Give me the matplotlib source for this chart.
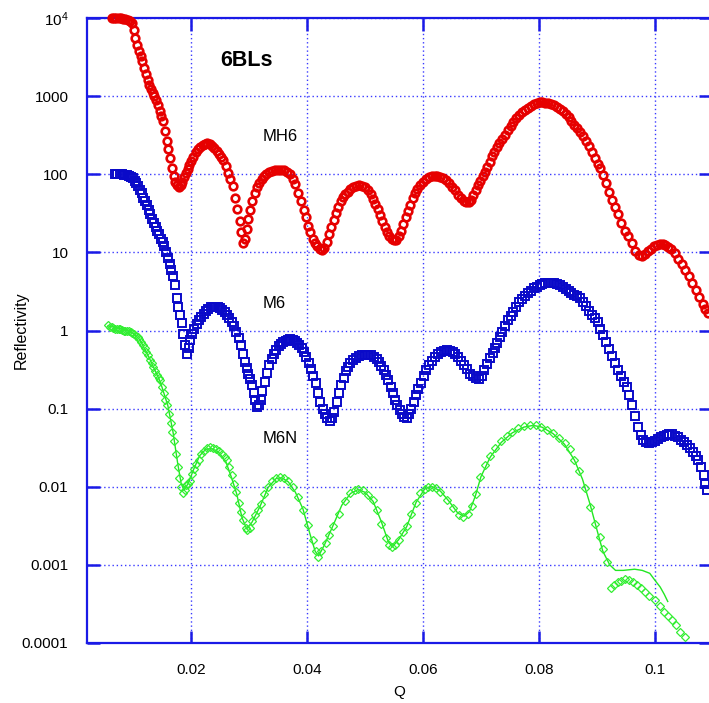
import matplotlib
matplotlib.use("Agg")
import matplotlib.pyplot as plt
import numpy as np

plt.rcParams['font.family'] = ['Liberation Sans', 'DejaVu Sans']
plt.rcParams['mathtext.fontset'] = 'custom'
plt.rcParams['mathtext.rm'] = 'Liberation Sans'

# MH6 data (Q, R) - red circles
mh6_pts = [
    (0.0063, 10000), (0.0067, 10000), (0.0071, 10000), (0.0075, 9900), (0.0079, 9900),
    (0.0083, 9800), (0.0087, 9700), (0.0091, 9500), (0.0095, 9200), (0.0098, 8700),
    (0.0101, 7000), (0.0104, 5500), (0.0107, 4500), (0.0110, 3800), (0.0113, 3300),
    (0.0116, 2800), (0.0119, 2300), (0.0122, 1900), (0.0125, 1600), (0.0128, 1400),
    (0.0131, 1250), (0.0134, 1100), (0.0137, 1000), (0.0140, 900), (0.0143, 780),
    (0.0146, 650), (0.0149, 560), (0.0152, 480), (0.0155, 360), (0.0158, 270),
    (0.0161, 210), (0.0164, 160), (0.0167, 120), (0.0170, 95), (0.0173, 80),
    (0.0176, 72), (0.0179, 69), (0.0182, 72), (0.0185, 80), (0.0188, 92),
    (0.0191, 105), (0.0194, 118), (0.0197, 132), (0.0200, 148), (0.0204, 168),
    (0.0208, 190), (0.0212, 208), (0.0216, 225), (0.0220, 238), (0.0224, 247),
    (0.0228, 251), (0.0232, 245), (0.0236, 232), (0.0240, 215), (0.0244, 198),
    (0.0248, 182), (0.0252, 168), (0.0256, 150), (0.0260, 128), (0.0264, 105),
    (0.0268, 88), (0.0272, 70), (0.0276, 50), (0.0280, 36), (0.0284, 25),
    (0.0287, 18), (0.0290, 13), (0.0293, 15), (0.0296, 20), (0.0299, 27),
    (0.0302, 35), (0.0306, 45), (0.0310, 57), (0.0314, 68), (0.0318, 78),
    (0.0322, 87), (0.0326, 95), (0.0330, 102), (0.0335, 108), (0.0340, 111),
    (0.0345, 113), (0.0350, 114), (0.0355, 114), (0.0360, 112), (0.0365, 107),
    (0.0370, 100), (0.0375, 88), (0.0380, 75), (0.0385, 58), (0.0390, 45),
    (0.0394, 35), (0.0398, 28), (0.0402, 22), (0.0406, 18), (0.0410, 15),
    (0.0414, 13), (0.0418, 12), (0.0422, 11), (0.0426, 10.7), (0.0430, 11.5),
    (0.0434, 13.5), (0.0438, 17), (0.0442, 21), (0.0446, 26), (0.0450, 32),
    (0.0454, 38), (0.0458, 45), (0.0462, 51), (0.0466, 56), (0.0470, 60),
    (0.0475, 65), (0.0480, 68), (0.0485, 71), (0.0490, 72), (0.0495, 71),
    (0.0500, 68), (0.0505, 63), (0.0510, 56), (0.0514, 48), (0.0518, 42),
    (0.0522, 36), (0.0526, 30), (0.0530, 25), (0.0534, 21), (0.0538, 18),
    (0.0542, 16), (0.0546, 15), (0.0550, 14.5), (0.0554, 14.5), (0.0558, 16),
    (0.0562, 19), (0.0566, 23), (0.0570, 28), (0.0574, 34), (0.0578, 41),
    (0.0582, 49), (0.0586, 57), (0.0590, 64), (0.0595, 72), (0.0600, 80),
    (0.0605, 87), (0.0610, 92), (0.0615, 95), (0.0620, 96), (0.0625, 96),
    (0.0630, 93), (0.0635, 89), (0.0640, 84), (0.0645, 77), (0.0650, 69),
    (0.0655, 62), (0.0660, 55), (0.0665, 50), (0.0670, 46), (0.0675, 44),
    (0.0679, 44), (0.0683, 47), (0.0687, 54), (0.0691, 62), (0.0695, 72),
    (0.0699, 83), (0.0703, 95), (0.0707, 108), (0.0711, 125), (0.0715, 145),
    (0.0719, 170), (0.0723, 195), (0.0727, 222), (0.0731, 250), (0.0736, 285),
    (0.0741, 320), (0.0746, 365), (0.0751, 410), (0.0756, 460), (0.0761, 520),
    (0.0766, 570), (0.0771, 620), (0.0776, 670), (0.0781, 715), (0.0786, 750),
    (0.0791, 785), (0.0796, 810), (0.0801, 830), (0.0806, 835), (0.0811, 825),
    (0.0816, 805), (0.0821, 785), (0.0826, 760), (0.0831, 725), (0.0836, 690),
    (0.0841, 640), (0.0846, 590), (0.0851, 535), (0.0856, 480), (0.0861, 430),
    (0.0866, 390), (0.0871, 345), (0.0876, 305), (0.0881, 265), (0.0886, 228),
    (0.0891, 195), (0.0896, 160), (0.0901, 135), (0.0906, 120), (0.0911, 98),
    (0.0916, 78), (0.0921, 60), (0.0926, 47), (0.0931, 38), (0.0936, 31),
    (0.0942, 24), (0.0948, 19), (0.0954, 16), (0.0960, 13), (0.0966, 10.5),
    (0.0972, 9.2), (0.0978, 8.9), (0.0983, 9.5), (0.0988, 10.3), (0.0993, 11.2),
    (0.0998, 12), (0.1003, 12.5), (0.1008, 12.8), (0.1013, 12.8), (0.1018, 12.5),
    (0.1023, 11.8), (0.1028, 11), (0.1034, 9.8), (0.1040, 8.2), (0.1046, 7),
    (0.1052, 6), (0.1058, 5), (0.1064, 4.1), (0.1070, 3.3), (0.1076, 2.7),
    (0.1082, 2.2), (0.1087, 1.9), (0.1091, 1.66),
]

# M6 data (Q, R) - blue squares
m6_pts = [
    (0.0069, 100), (0.0073, 100), (0.0077, 100), (0.0081, 100), (0.0085, 99),
    (0.0089, 98), (0.0093, 96), (0.0097, 93), (0.0100, 90), (0.0103, 83),
    (0.0106, 77), (0.0109, 70), (0.0112, 63), (0.0115, 57), (0.0118, 50),
    (0.0121, 45), (0.0124, 40), (0.0127, 35), (0.0130, 31), (0.0133, 27),
    (0.0136, 24), (0.0139, 21), (0.0142, 19), (0.0145, 17), (0.0148, 15),
    (0.0151, 13.5), (0.0154, 12), (0.0157, 10), (0.0160, 8.5), (0.0163, 7.2),
    (0.0166, 6), (0.0169, 5), (0.0172, 3.8), (0.0175, 2.6), (0.0178, 2),
    (0.0181, 1.6), (0.0184, 1.25), (0.0187, 0.9), (0.0190, 0.65), (0.0193, 0.5),
    (0.0196, 0.6), (0.0199, 0.75), (0.0202, 0.9), (0.0206, 1.05), (0.0210, 1.2),
    (0.0214, 1.35), (0.0218, 1.5), (0.0222, 1.65), (0.0226, 1.8), (0.0230, 1.9),
    (0.0234, 1.97), (0.0238, 2.0), (0.0242, 2.0), (0.0246, 2.0), (0.0250, 1.95),
    (0.0254, 1.85), (0.0258, 1.72), (0.0262, 1.6), (0.0266, 1.45), (0.0270, 1.3),
    (0.0274, 1.15), (0.0278, 0.95), (0.0282, 0.8), (0.0286, 0.65), (0.0290, 0.5),
    (0.0293, 0.4), (0.0296, 0.33), (0.0299, 0.28), (0.0302, 0.24), (0.0305, 0.2),
    (0.0308, 0.16), (0.0311, 0.13), (0.0314, 0.105), (0.0317, 0.11), (0.0320, 0.13),
    (0.0323, 0.17), (0.0327, 0.22), (0.0331, 0.29), (0.0335, 0.36), (0.0339, 0.43),
    (0.0343, 0.5), (0.0347, 0.57), (0.0351, 0.63), (0.0355, 0.67), (0.0359, 0.71),
    (0.0363, 0.74), (0.0367, 0.76), (0.0371, 0.77), (0.0375, 0.76), (0.0379, 0.74),
    (0.0383, 0.7), (0.0387, 0.65), (0.0391, 0.6), (0.0395, 0.53), (0.0399, 0.46),
    (0.0403, 0.38), (0.0407, 0.32), (0.0411, 0.26), (0.0415, 0.21), (0.0419, 0.16),
    (0.0423, 0.12), (0.0427, 0.1), (0.0431, 0.085), (0.0435, 0.075), (0.0439, 0.07),
    (0.0443, 0.075), (0.0447, 0.09), (0.0451, 0.12), (0.0455, 0.16), (0.0459, 0.2),
    (0.0463, 0.25), (0.0467, 0.3), (0.0471, 0.34), (0.0475, 0.38), (0.0480, 0.42),
    (0.0485, 0.45), (0.0490, 0.47), (0.0495, 0.48), (0.0500, 0.49), (0.0505, 0.49),
    (0.0510, 0.48), (0.0515, 0.46), (0.0520, 0.43), (0.0524, 0.39), (0.0528, 0.35),
    (0.0532, 0.31), (0.0536, 0.27), (0.0540, 0.23), (0.0544, 0.19), (0.0548, 0.16),
    (0.0552, 0.13), (0.0556, 0.11), (0.0560, 0.095), (0.0564, 0.085), (0.0568, 0.078),
    (0.0572, 0.076), (0.0576, 0.085), (0.0580, 0.1), (0.0584, 0.12), (0.0588, 0.15),
    (0.0592, 0.18), (0.0596, 0.21), (0.0601, 0.26), (0.0606, 0.31), (0.0611, 0.36),
    (0.0616, 0.41), (0.0621, 0.46), (0.0626, 0.5), (0.0631, 0.53), (0.0636, 0.55),
    (0.0641, 0.56), (0.0646, 0.55), (0.0651, 0.53), (0.0656, 0.5), (0.0661, 0.46),
    (0.0666, 0.41), (0.0671, 0.36), (0.0676, 0.32), (0.0681, 0.28), (0.0686, 0.26),
    (0.0691, 0.245), (0.0696, 0.24), (0.0701, 0.26), (0.0706, 0.31), (0.0711, 0.37),
    (0.0716, 0.44), (0.0720, 0.52), (0.0724, 0.6), (0.0728, 0.7), (0.0732, 0.82),
    (0.0736, 0.97), (0.0741, 1.15), (0.0746, 1.35), (0.0751, 1.55), (0.0756, 1.75),
    (0.0761, 2.0), (0.0766, 2.3), (0.0771, 2.55), (0.0776, 2.8), (0.0781, 3.05),
    (0.0786, 3.25), (0.0791, 3.45), (0.0796, 3.65), (0.0801, 3.8), (0.0806, 3.95),
    (0.0811, 4.05), (0.0816, 4.1), (0.0821, 4.1), (0.0826, 4.05), (0.0831, 3.95),
    (0.0836, 3.8), (0.0841, 3.6), (0.0846, 3.4), (0.0851, 3.2), (0.0856, 3.0),
    (0.0861, 2.85), (0.0866, 2.75), (0.0871, 2.6), (0.0876, 2.35), (0.0881, 2.05),
    (0.0886, 1.8), (0.0891, 1.6), (0.0896, 1.45), (0.0901, 1.3), (0.0906, 1.05),
    (0.0911, 0.88), (0.0916, 0.72), (0.0921, 0.58), (0.0926, 0.47), (0.0931, 0.38),
    (0.0936, 0.31), (0.0941, 0.26), (0.0946, 0.22), (0.0951, 0.19), (0.0956, 0.15),
    (0.0961, 0.11), (0.0966, 0.08), (0.0971, 0.059), (0.0976, 0.046), (0.0980, 0.04),
    (0.0985, 0.037), (0.0990, 0.036), (0.0995, 0.037), (0.1000, 0.039), (0.1005, 0.041),
    (0.1010, 0.043), (0.1015, 0.045), (0.1020, 0.046), (0.1025, 0.047), (0.1030, 0.047),
    (0.1035, 0.045), (0.1040, 0.043), (0.1045, 0.04), (0.1050, 0.037), (0.1055, 0.034),
    (0.1060, 0.031), (0.1065, 0.028), (0.1070, 0.025), (0.1075, 0.022), (0.1080, 0.018),
    (0.1084, 0.014), (0.1087, 0.011), (0.1089, 0.0091),
]

# M6N data (Q, R) - green diamonds
m6n_pts = [
    (0.0057, 1.17), (0.0060, 1.12), (0.0063, 1.1), (0.0066, 1.07), (0.0069, 1.05),
    (0.0072, 1.05), (0.0075, 1.04), (0.0078, 1.03), (0.0081, 1.02), (0.0084, 1.0),
    (0.0087, 1.0), (0.0090, 0.99), (0.0093, 0.98), (0.0096, 0.96), (0.0099, 0.94),
    (0.0102, 0.9), (0.0105, 0.86), (0.0108, 0.82), (0.0111, 0.78), (0.0114, 0.72),
    (0.0117, 0.65), (0.0120, 0.59), (0.0123, 0.53), (0.0126, 0.48), (0.0129, 0.42),
    (0.0132, 0.38), (0.0135, 0.34), (0.0138, 0.3), (0.0141, 0.27), (0.0144, 0.25),
    (0.0147, 0.23), (0.0150, 0.19), (0.0153, 0.16), (0.0156, 0.13), (0.0159, 0.11),
    (0.0162, 0.085), (0.0165, 0.065), (0.0168, 0.05), (0.0171, 0.038), (0.0174, 0.026),
    (0.0177, 0.018), (0.0180, 0.013), (0.0183, 0.01), (0.0186, 0.0083), (0.0189, 0.0092),
    (0.0192, 0.0105), (0.0195, 0.011), (0.0198, 0.012), (0.0201, 0.0145), (0.0205, 0.017),
    (0.0209, 0.0195), (0.0213, 0.022), (0.0218, 0.026), (0.0223, 0.029), (0.0228, 0.031),
    (0.0233, 0.032), (0.0238, 0.0315), (0.0243, 0.03), (0.0248, 0.0285), (0.0253, 0.026),
    (0.0258, 0.024), (0.0262, 0.022), (0.0266, 0.018), (0.0270, 0.014), (0.0274, 0.011),
    (0.0278, 0.0085), (0.0282, 0.0062), (0.0286, 0.0047), (0.0290, 0.0038), (0.0294, 0.003),
    (0.0297, 0.0028), (0.0301, 0.003), (0.0306, 0.0036), (0.0311, 0.0043), (0.0316, 0.005),
    (0.0321, 0.006), (0.0326, 0.008), (0.0333, 0.01), (0.0340, 0.012), (0.0347, 0.013),
    (0.0353, 0.0135), (0.0360, 0.013), (0.0368, 0.012), (0.0376, 0.01), (0.0384, 0.0075),
    (0.0393, 0.005), (0.0401, 0.0032), (0.0410, 0.0021), (0.0415, 0.0015), (0.0419, 0.00126),
    (0.0425, 0.0015), (0.0432, 0.0019), (0.0438, 0.0024), (0.0445, 0.0031), (0.0455, 0.0045),
    (0.0465, 0.0065), (0.0475, 0.0082), (0.0482, 0.009), (0.0488, 0.0093), (0.0496, 0.009),
    (0.0505, 0.0078), (0.0514, 0.0067), (0.0520, 0.005), (0.0528, 0.0033), (0.0536, 0.0022),
    (0.0541, 0.0018), (0.0546, 0.0017), (0.0552, 0.0018), (0.0558, 0.0021), (0.0565, 0.0026),
    (0.0572, 0.0031), (0.0580, 0.0045), (0.0588, 0.0062), (0.0595, 0.0083), (0.0603, 0.0093),
    (0.0609, 0.01), (0.0615, 0.01), (0.0622, 0.0095), (0.0630, 0.0085), (0.0641, 0.0067),
    (0.0652, 0.0053), (0.0662, 0.0044), (0.0669, 0.0041), (0.0677, 0.0045), (0.0684, 0.0056),
    (0.0691, 0.008), (0.0698, 0.0135), (0.0707, 0.019), (0.0716, 0.025), (0.0725, 0.031),
    (0.0735, 0.038), (0.0744, 0.044), (0.0754, 0.05), (0.0764, 0.056), (0.0774, 0.06),
    (0.0784, 0.062), (0.0794, 0.061), (0.0804, 0.058), (0.0814, 0.054), (0.0824, 0.049),
    (0.0834, 0.042), (0.0844, 0.036), (0.0853, 0.03), (0.0861, 0.022), (0.0869, 0.016),
    (0.0879, 0.0096), (0.0888, 0.0055), (0.0896, 0.0033), (0.0905, 0.0023), (0.0911, 0.0016),
    (0.0917, 0.0011), (0.0925, 0.0005), (0.0930, 0.00055), (0.0936, 0.0006), (0.0942, 0.00063),
    (0.0948, 0.00065), (0.0955, 0.00064), (0.0962, 0.0006), (0.0969, 0.00055), (0.0976, 0.0005),
    (0.0983, 0.00045), (0.0990, 0.0004), (0.1000, 0.00036), (0.1008, 0.0003), (0.1015, 0.00025),
    (0.1022, 0.00022), (0.1029, 0.000195), (0.1036, 0.00017), (0.1044, 0.00014), (0.1052, 0.00012),
]

# M6N fit (Q, R) - green line
fit_pts = [
    (0.0057, 1.15), (0.0080, 1.05), (0.0098, 0.95), (0.0112, 0.76), (0.0129, 0.43),
    (0.0147, 0.22), (0.0160, 0.11), (0.0169, 0.05), (0.0177, 0.02), (0.0183, 0.011),
    (0.0188, 0.009), (0.0195, 0.011), (0.0205, 0.017), (0.0215, 0.025), (0.0225, 0.03),
    (0.0235, 0.031), (0.0247, 0.028), (0.0260, 0.021), (0.0270, 0.013), (0.0279, 0.008),
    (0.0288, 0.004), (0.0296, 0.0029), (0.0305, 0.0035), (0.0319, 0.0056), (0.0333, 0.0098),
    (0.0347, 0.0128), (0.0357, 0.013), (0.0368, 0.0115), (0.0380, 0.0085), (0.0393, 0.0052),
    (0.0405, 0.0025), (0.0414, 0.0015), (0.0420, 0.0013), (0.0430, 0.0018), (0.0445, 0.0032),
    (0.0460, 0.0058), (0.0475, 0.0082), (0.0488, 0.0092), (0.0500, 0.0085), (0.0514, 0.0065),
    (0.0528, 0.0036), (0.0540, 0.002), (0.0547, 0.0017), (0.0558, 0.0021), (0.0572, 0.0031),
    (0.0588, 0.0063), (0.0603, 0.0094), (0.0615, 0.0101), (0.0630, 0.0088), (0.0645, 0.0065),
    (0.0660, 0.0046), (0.0671, 0.0042), (0.0680, 0.0048), (0.0690, 0.0075), (0.0700, 0.0135),
    (0.0716, 0.024), (0.0735, 0.037), (0.0754, 0.049), (0.0774, 0.058), (0.0790, 0.061),
    (0.0805, 0.058), (0.0824, 0.048), (0.0844, 0.035), (0.0861, 0.022), (0.0875, 0.0125),
    (0.0888, 0.006), (0.0900, 0.0028), (0.0910, 0.0015), (0.0922, 0.001), (0.0932, 0.00085),
    (0.0945, 0.00085), (0.0965, 0.00088), (0.0978, 0.00085), (0.0991, 0.00078), (0.1001, 0.00062),
    (0.1009, 0.00052), (0.1016, 0.00042), (0.1022, 0.00034),
]

yticks = [1e4, 1e3, 1e2, 1e1, 1, 0.1, 0.01, 0.001, 0.0001]
ylabels = [r'$\mathregular{10^4}$', '1000', '100', '10', '1', '0.1', '0.01', '0.001', '0.0001']
xticks = [0.02, 0.04, 0.06, 0.08, 0.1]
xlabels = ['0.02', '0.04', '0.06', '0.08', '0.1']

q_mh6, r_mh6 = zip(*mh6_pts)
q_m6, r_m6 = zip(*m6_pts)
q_m6n, r_m6n = zip(*m6n_pts)
q_fit, r_fit = zip(*fit_pts)

W, H = 709, 703
fig = plt.figure(figsize=(W / 100, H / 100), dpi=100)
ax = fig.add_axes([86.5 / W, 1 - 643 / H, (711 - 86.5) / W, (643 - 18) / H])

axis_blue = '#1a1ae6'
ax.set_yscale('log')
ax.set_xlim(0.00198, 0.10966)
ax.set_ylim(1e-4, 1e4)

ax.plot(q_fit, r_fit, '-', color='#22e622', lw=1.0, zorder=3)
ax.plot(q_m6n, r_m6n, 'D', ms=4, mfc='none', mec='#33ee33', mew=0.9, zorder=4)
ax.plot(q_m6, r_m6, 's', ms=5.5, mfc='none', mec='#0a0ac8', mew=1.4, zorder=4)
ax.plot(q_mh6, r_mh6, 'o', ms=5.5, mfc='none', mec='#e60000', mew=1.9, zorder=4,
        clip_on=False)

ax.set_yticks(yticks)
ax.set_yticklabels(ylabels)
ax.set_xticks(xticks)
ax.set_xticklabels(xlabels)
ax.minorticks_off()
ax.tick_params(axis='both', which='major', direction='in', length=9, width=1.8,
               color=axis_blue, labelsize=11, top=True, right=True)
ax.tick_params(axis='y', pad=13)
ax.tick_params(axis='x', pad=14.5)
for s in ax.spines.values():
    s.set_color(axis_blue)
    s.set_linewidth(1.6)

ax.grid(True, which='major', color='#3a3aff', linestyle=(0, (1, 2)), linewidth=1.0)
ax.set_axisbelow(True)

ax.set_xlabel('Q', fontsize=11, labelpad=6)
ax.set_ylabel('Reflectivity', fontsize=11.5)
ax.yaxis.set_label_coords((29 - 86.5) / 624.5, 0.5)

ax.text(0.0250, 2900, '6BLs', fontsize=15.5, fontweight='bold', ha='left', va='center')
ax.text(0.0324, 300, 'MH6', fontsize=12, ha='left', va='center')
ax.text(0.0324, 2.2, 'M6', fontsize=12, ha='left', va='center')
ax.text(0.0324, 0.041, 'M6N', fontsize=12, ha='left', va='center')

fig.savefig('out.png', dpi=100)
